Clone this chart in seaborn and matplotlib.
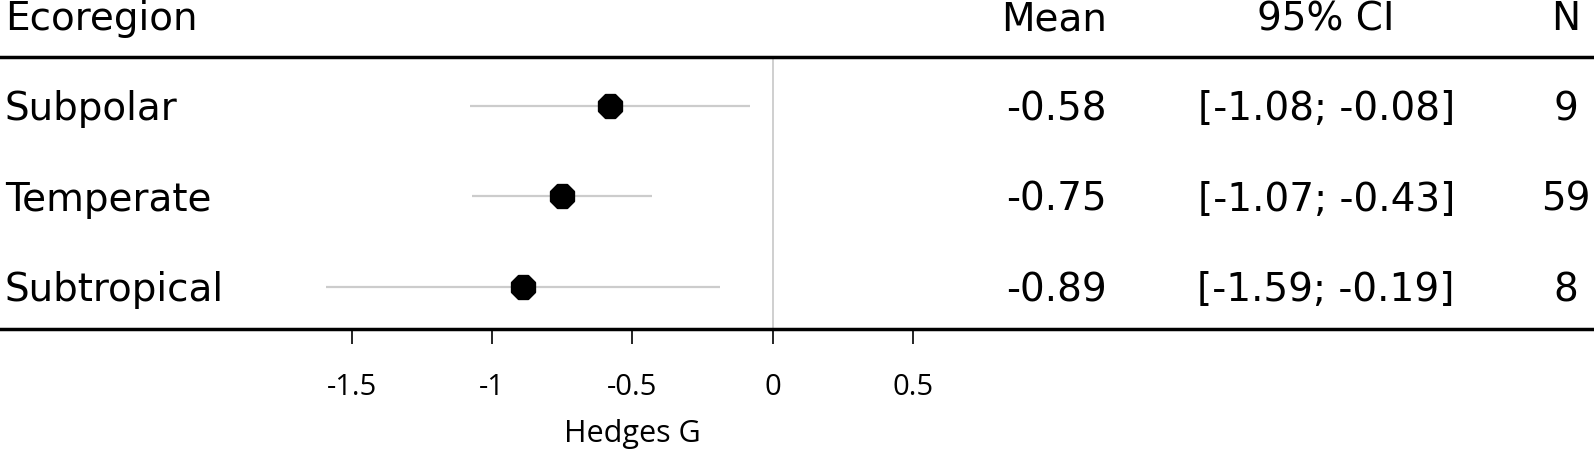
import numpy as np
import pandas as pd
import seaborn as sns
import matplotlib.pyplot as plt
import matplotlib.transforms as mtransforms

regions = ["Subpolar", "Temperate", "Subtropical"]
means = [-0.58, -0.75, -0.89]
lower = [-1.08, -1.07, -1.59]
upper = [-0.08, -0.43, -0.19]
n_studies = [9, 59, 8]
xticks = [-1.5, -1, -0.5, 0, 0.5]
xtick_labels = ["-1.5", "-1", "-0.5", "0", "0.5"]

df = pd.DataFrame({"Ecoregion": regions, "Mean": means, "Lower": lower,
                   "Upper": upper, "N": n_studies})
df["row"] = np.arange(1, len(df) + 1)

sns.set_style("white")
plt.rcParams["font.family"] = ["DejaVu Sans"]
plt.rcParams["text.color"] = "black"
plt.rcParams["xtick.color"] = "black"

fig = plt.figure(figsize=(15.94, 4.52), dpi=100)
ax = fig.add_axes([0, 0.27, 1, 0.602])

# confidence intervals + null line
ax.hlines(df["row"], df["Lower"], df["Upper"], color="#cccccc", lw=1.6, zorder=1)
ax.axvline(0, color="#cccccc", lw=1.3, zorder=0)
sns.scatterplot(data=df, x="Mean", y="row", marker="8", s=330, color="black",
                edgecolor="black", ax=ax, zorder=3, legend=False)

ax.set_xlim(-2.751, 2.922)
ax.set_ylim(3.464, 0.459)
ax.set_yticks([])
ax.set_xticks(xticks)
ax.set_xticklabels(xtick_labels, family="Open Sans", fontsize=21, color="black")
ax.tick_params(axis="x", direction="out", length=11, width=1.2, color="black", pad=20, bottom=True)
ax.set_xlabel("")
ax.set_ylabel("")
for s in ["left", "right"]:
    ax.spines[s].set_visible(False)
for s in ["top", "bottom"]:
    ax.spines[s].set_color("black")
    ax.spines[s].set_linewidth(2.5)

# table columns
tr = mtransforms.blended_transform_factory(ax.transAxes, ax.transData)
fs = 28
hy = 0.03
off = 0.025
ax.text(0.003, hy, "Ecoregion", transform=tr, fontsize=fs, va="center", ha="left", clip_on=False)
ax.text(0.6945, hy, "Mean", transform=tr, fontsize=fs, va="center", ha="right", clip_on=False)
ax.text(0.832, hy, "95% CI", transform=tr, fontsize=fs, va="center", ha="center", clip_on=False)
ax.text(0.9824, hy, "N", transform=tr, fontsize=fs, va="center", ha="center", clip_on=False)
for _, r in df.iterrows():
    y = r["row"] + off
    ax.text(0.003, y, r["Ecoregion"], transform=tr, fontsize=fs, va="center", ha="left")
    ax.text(0.6945, y, f"{r['Mean']:.2f}", transform=tr, fontsize=fs, va="center", ha="right")
    ax.text(0.832, y, f"[{r['Lower']:.2f}; {r['Upper']:.2f}]", transform=tr,
            fontsize=fs, va="center", ha="center")
    ax.text(0.9824, y, f"{int(r['N'])}", transform=tr, fontsize=fs, va="center", ha="center")

lab_tr = mtransforms.blended_transform_factory(ax.transData, fig.transFigure)
ax.text(-0.5, 0.04, "Hedges G", transform=lab_tr, family="Open Sans", fontsize=22,
        va="center", ha="center", clip_on=False)

fig.savefig("out.png", dpi=100)
